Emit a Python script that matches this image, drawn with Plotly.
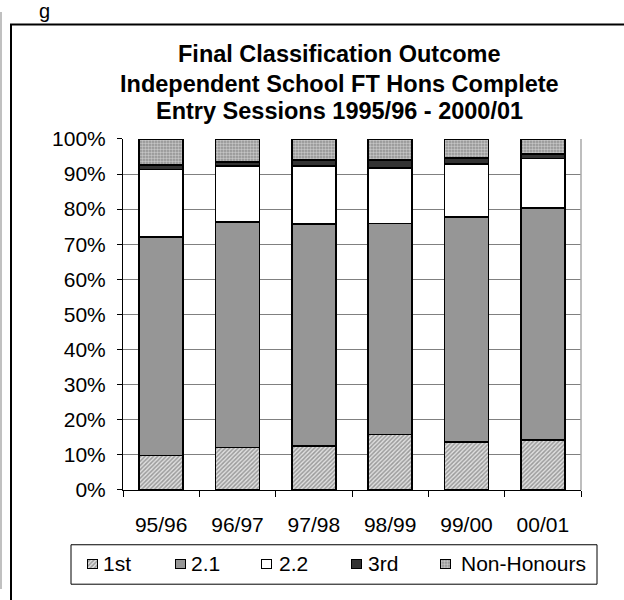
import plotly.graph_objects as go

# Entry sessions and percentage of each final classification
sessions = ["95/96", "96/97", "97/98", "98/99", "99/00", "00/01"]
first = [9.8, 12.1, 12.6, 15.8, 13.6, 14.2]
upper_second = [62.2, 64.3, 63.2, 60.1, 64.1, 66.2]
lower_second = [19.3, 15.9, 16.5, 15.9, 15.2, 14.0]
third = [1.2, 1.1, 1.7, 2.2, 1.6, 1.3]
non_honours = [7.5, 6.6, 6.0, 6.0, 5.5, 4.3]

series_names = ["1st", "2.1", "2.2", "3rd", "Non-Honours"]
y_ticks = list(range(0, 101, 10))
y_tick_text = [f"{v}%" for v in y_ticks]
title_lines = [
    "Final Classification Outcome",
    "Independent School FT Hons Complete",
    "Entry Sessions 1995/96 - 2000/01",
]

W, H = 624, 600
FONT = "Arial, Liberation Sans, sans-serif"

# plot area and legend strip, in page pixels
PX0, PX1, PY0, PY1 = 123, 581, 132, 497
LX0, LX1, LY0, LY1 = 71, 597, 554, 595


def fx(x):
    return x / W


def fy(y):
    return 1 - y / H


outline = dict(color="black", width=1.7)
styles = [
    dict(color="white", pattern=dict(shape="/", fgcolor="#555555", bgcolor="#e0e0e0", size=3, solidity=0.5)),
    dict(color="#969696"),
    dict(color="white"),
    dict(color="#333333"),
    dict(color="white", pattern=dict(shape=".", fgcolor="white", bgcolor="#8c8c8c", size=3, solidity=0.55)),
]
series = [first, upper_second, lower_second, third, non_honours]

fig = go.Figure()
for name, vals, st in zip(series_names, series, styles):
    fig.add_trace(go.Bar(x=sessions, y=vals, name=name, marker=dict(line=outline, **st),
                         xaxis="x", yaxis="y"))

# legend swatches drawn as small bars in their own strip (x in page pixels)
swatch_x = [92, 180, 266, 356, 445]
label_x = [101, 189, 277, 366, 459]
SW = 10
sw_center = LY1 - 574
for name, st, sx in zip(series_names, styles, swatch_x):
    fig.add_trace(go.Bar(
        x=[sx], y=[SW], base=[sw_center - SW / 2], width=[SW],
        marker=dict(line=dict(color="black", width=1), **st),
        xaxis="x2", yaxis="y2", showlegend=False, hoverinfo="skip",
    ))

fig.update_layout(
    width=W, height=H,
    margin=dict(l=0, r=0, t=0, b=0),
    paper_bgcolor="white", plot_bgcolor="white",
    barmode="stack", bargap=0.42,
    font=dict(family=FONT, size=21, color="black"),
    showlegend=False,
    xaxis=dict(
        domain=[fx(PX0), fx(PX1)], anchor="y",
        type="category", showline=True, linecolor="black", linewidth=1,
        ticks="outside", tickson="boundaries", ticklen=6, tickcolor="black",
        showgrid=False, ticklabelstandoff=16, tickfont=dict(size=21),
    ),
    yaxis=dict(
        domain=[fy(PY1), fy(PY0)], anchor="x",
        range=[0, 100], tickmode="array", tickvals=y_ticks, ticktext=y_tick_text,
        showline=True, linecolor="black", linewidth=1,
        ticks="outside", ticklen=5, tickcolor="black",
        showgrid=True, gridcolor="#808080", gridwidth=1,
        zeroline=False, ticklabelstandoff=7, tickfont=dict(size=21),
    ),
    xaxis2=dict(domain=[fx(LX0), fx(LX1)], anchor="y2", range=[LX0, LX1],
                visible=False, fixedrange=True),
    yaxis2=dict(domain=[fy(LY1), fy(LY0)], anchor="x2", range=[0, LY1 - LY0],
                visible=False, fixedrange=True),
)

shapes = [
    # outer chart frame
    dict(type="rect", xref="paper", yref="paper", x0=fx(11), x1=fx(660), y0=fy(660), y1=fy(13),
         line=dict(color="black", width=2), fillcolor="rgba(0,0,0,0)", layer="below"),
    # page rule at left
    dict(type="line", xref="paper", yref="paper", x0=fx(1), x1=fx(1), y0=0, y1=1,
         line=dict(color="#c0c0c0", width=2)),
    # plot area right edge
    dict(type="line", xref="paper", yref="paper", x0=fx(PX1), x1=fx(PX1), y0=fy(PY1), y1=fy(PY0),
         line=dict(color="#a8a8a8", width=1.5)),
    # legend box
    dict(type="rect", xref="paper", yref="paper", x0=fx(LX0), x1=fx(LX1), y0=fy(LY1), y1=fy(LY0),
         line=dict(color="black", width=1), fillcolor="rgba(0,0,0,0)"),
]
fig.update_layout(shapes=shapes)

annotations = []
for line, yy in zip(title_lines, [44, 75, 103]):
    annotations.append(dict(
        text=f"<b>{line}</b>", xref="paper", yref="paper", x=fx(339), y=fy(yy),
        xanchor="center", yanchor="middle", showarrow=False, font=dict(size=23.5, family=FONT),
    ))
for name, lx in zip(series_names, label_x):
    annotations.append(dict(
        text=name, xref="paper", yref="paper", x=fx(lx), y=fy(573),
        xanchor="left", yanchor="middle", showarrow=False, font=dict(size=21, family=FONT),
    ))
# running text of the page above the chart frame
annotations.append(dict(
    text="g", xref="paper", yref="paper", x=fx(45), y=fy(12), xanchor="center", yanchor="bottom",
    showarrow=False, font=dict(size=20, family=FONT),
))
fig.update_layout(annotations=annotations)

fig.write_html("out.html")
